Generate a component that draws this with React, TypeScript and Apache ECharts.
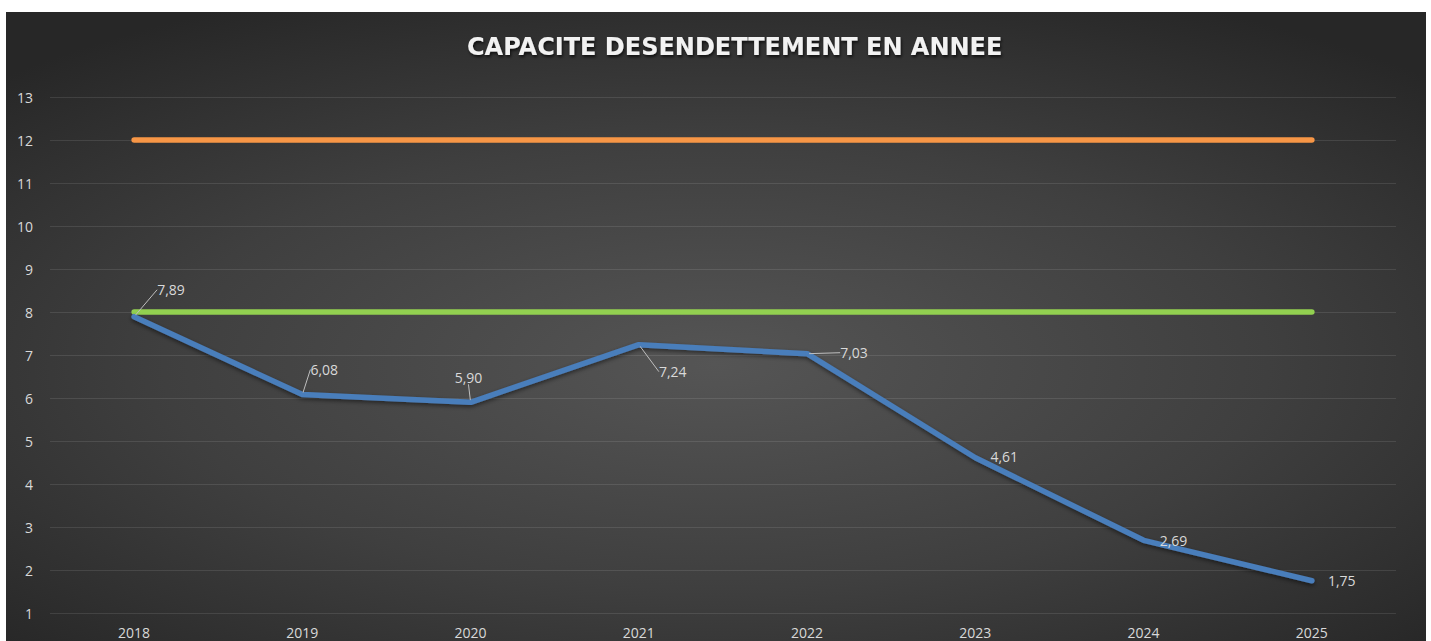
import React, { useEffect, useRef } from "react";
import * as echarts from "echarts";

const categories = ["2018", "2019", "2020", "2021", "2022", "2023", "2024", "2025"];
const capacite = [7.89, 6.08, 5.9, 7.24, 7.03, 4.61, 2.69, 1.75];
const seuilHaut = [12, 12, 12, 12, 12, 12, 12, 12];
const seuilBas = [8, 8, 8, 8, 8, 8, 8, 8];
const labelShift: [number, number][] = [
  [8, -27],
  [-7, -25],
  [-31, -25],
  [5, 27],
  [18, -1],
  [0, -1],
  [1, 0],
  [1, 0],
];
const showGuide = [true, true, true, true, true, false, false, false];

export default function App() {
  const ref = useRef<HTMLDivElement>(null);
  useEffect(() => {
    if (!ref.current) return;
    const chart = echarts.init(ref.current, null, { renderer: "svg" });
    const font = "'Open Sans', 'Noto Sans', sans-serif";
    chart.setOption({
      animation: false,
      backgroundColor: "transparent",
      title: {
        text: "CAPACITE DESENDETTEMENT EN ANNEE",
        left: 456,
        top: 18,
        textStyle: {
          color: "#f2f2f2",
          fontSize: 24,
          fontWeight: "bold",
          fontFamily: "'DejaVu Sans', sans-serif",
          textShadowColor: "rgba(0,0,0,0.7)",
          textShadowBlur: 3,
          textShadowOffsetX: 1,
          textShadowOffsetY: 2,
        },
      },
      grid: { left: 44, right: 30, top: 85, bottom: 39, containLabel: false },
      xAxis: {
        type: "category",
        data: categories,
        boundaryGap: true,
        axisLine: { show: false },
        axisTick: { show: false },
        axisLabel: { color: "#d9d9d9", fontSize: 14, fontFamily: font, margin: 12 },
      },
      yAxis: {
        type: "value",
        min: 1,
        max: 13,
        interval: 1,
        axisLine: { show: false },
        axisTick: { show: false },
        axisLabel: { color: "#d9d9d9", fontSize: 14, fontFamily: font, margin: 17 },
        splitLine: { lineStyle: { color: "rgba(255,255,255,0.1)", width: 1 } },
      },
      series: [
        {
          type: "line",
          data: seuilHaut,
          symbol: "none",
          lineStyle: { color: "#f79646", width: 5.5, cap: "round" },
          z: 2,
        },
        {
          type: "line",
          data: seuilBas,
          symbol: "none",
          lineStyle: { color: "#92d050", width: 5.5, cap: "round" },
          z: 3,
        },
        {
          type: "line",
          data: capacite.map((v, i) => ({
            value: v,
            labelLine: { show: showGuide[i] },
          })),
          symbol: "circle",
          symbolSize: 4,
          showSymbol: true,
          itemStyle: { color: "#4a7ebb" },
          lineStyle: {
            color: "#4a7ebb",
            width: 5.5,
            cap: "round",
            join: "round",
            shadowColor: "rgba(0,0,0,0.5)",
            shadowBlur: 4,
            shadowOffsetY: 2,
          },
          label: {
            show: true,
            position: "right",
            distance: 13,
            color: "#d9d9d9",
            fontSize: 14,
            fontFamily: font,
            formatter: (p: any) => Number(p.value).toFixed(2).replace(".", ","),
          },
          labelLine: {
            show: true,
            lineStyle: { color: "#bfbfbf", width: 1 },
          },
          labelLayout: (p: any) => ({
            dx: labelShift[p.dataIndex][0],
            dy: labelShift[p.dataIndex][1],
          }),
          z: 4,
        },
      ],
    });
    return () => chart.dispose();
  }, []);
  return (
    <div
      ref={ref}
      style={{
        position: "absolute",
        left: 6,
        top: 12,
        width: 1420,
        height: 640,
        background:
          "radial-gradient(ellipse closest-corner at 50% 55%, #555555 0%, #3f3f3f 55%, #272727 100%)",
      }}
    />
  );
}
